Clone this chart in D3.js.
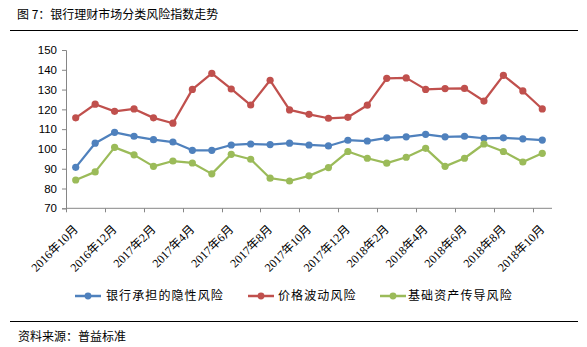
<!DOCTYPE html>
<html>
<head>
<meta charset="utf-8">
<script src="https://cdn.jsdelivr.net/npm/d3@7"></script>
<style>
  html, body { margin: 0; padding: 0; background: #fff; }
  svg { display: block; }
</style>
</head>
<body>
<svg id="chart" width="587" height="347"></svg>
<script>
const months = [
  "2016年10月","2016年11月","2016年12月","2017年1月","2017年2月","2017年3月","2017年4月",
  "2017年5月","2017年6月","2017年7月","2017年8月","2017年9月","2017年10月","2017年11月",
  "2017年12月","2018年1月","2018年2月","2018年3月","2018年4月","2018年5月","2018年6月",
  "2018年7月","2018年8月","2018年9月","2018年10月"
];
const implicitRisk = [90.7,102.9,108.4,106.4,104.7,103.5,99.3,99.3,102.0,102.5,102.2,102.9,102.0,101.5,104.4,104.0,105.6,106.1,107.4,106.1,106.4,105.4,105.6,105.1,104.5];
const priceRisk = [115.7,122.6,119.0,120.2,115.7,113.0,130.1,138.2,130.3,122.2,134.7,119.7,117.5,115.5,116.0,122.1,135.7,135.9,130.1,130.5,130.6,124.2,137.2,129.3,120.2];
const baseRisk = [84.3,88.4,100.8,97.0,91.2,93.9,92.9,87.4,97.3,94.8,85.2,83.8,86.4,90.6,98.7,95.3,92.8,95.8,100.3,91.2,95.3,102.5,98.7,93.4,97.8];
const seriesNames = ["银行承担的隐性风险","价格波动风险","基础资产传导风险"];
const seriesColors = ["#4F81BD","#C0504D","#9BBB59"];
const yTicks = [70,80,90,100,110,120,130,140,150];
const titleText = "图 7：银行理财市场分类风险指数走势";
const sourceText = "资料来源：普益标准";

const svg = d3.select("#chart");
const plotLeft = 66, plotRight = 552, plotTop = 50, plotBottom = 208.3;

const x = d3.scaleBand().domain(months).range([plotLeft, plotRight]).paddingInner(0).paddingOuter(0);
const y = d3.scaleLinear().domain([70, 150]).range([plotBottom, plotTop]);

const cjk = "'Noto Sans CJK SC', 'Noto Sans', sans-serif";

// Title
svg.append("text").attr("x", 17).attr("y", 15).attr("dy", "0.35em")
  .attr("font-family", cjk).attr("font-size", 12).attr("fill", "#000")
  .text(titleText);
svg.append("line").attr("x1", 10).attr("x2", 578).attr("y1", 30.5).attr("y2", 30.5)
  .attr("stroke", "#000").attr("stroke-width", 1.2);

// Y axis
const yAxis = d3.axisLeft(y).tickValues(yTicks).tickSize(4).tickPadding(5);
const gy = svg.append("g").attr("transform", `translate(${plotLeft},0)`).call(yAxis);
gy.select(".domain").attr("stroke", "#868686");
gy.selectAll(".tick line").attr("stroke", "#868686");
gy.selectAll(".tick text").attr("font-family", "'Liberation Sans', Arial, sans-serif")
  .attr("font-size", 11.5).attr("fill", "#000");

// X axis line
svg.append("line").attr("x1", plotLeft).attr("x2", plotRight).attr("y1", plotBottom).attr("y2", plotBottom)
  .attr("stroke", "#868686").attr("stroke-width", 1);
const labeled = months.filter((d, i) => i % 2 === 0);
svg.append("g").selectAll("line").data(labeled).join("line")
  .attr("x1", d => Math.round(x(d)) + 0.5).attr("x2", d => Math.round(x(d)) + 0.5)
  .attr("y1", plotBottom).attr("y2", plotBottom + 4)
  .attr("stroke", "#868686");
svg.append("g").selectAll("text").data(labeled).join("text")
  .attr("transform", d => `translate(${x(d) + x.bandwidth() / 2},${227}) rotate(-45)`)
  .attr("text-anchor", "end").attr("dy", "0.35em")
  .attr("font-family", "'Liberation Serif', 'Times New Roman', 'Noto Sans CJK SC', serif")
  .attr("font-size", 12).attr("fill", "#000")
  .text(d => d);

// Series
const allSeries = [implicitRisk, priceRisk, baseRisk];
const line = d3.line().x((d, i) => x(months[i]) + x.bandwidth() / 2).y(d => y(d));
allSeries.forEach((vals, k) => {
  const g = svg.append("g");
  g.append("path").datum(vals).attr("d", line).attr("fill", "none")
    .attr("stroke", seriesColors[k]).attr("stroke-width", 2.25).attr("stroke-linejoin", "round");
  g.selectAll("circle").data(vals).join("circle")
    .attr("cx", (d, i) => x(months[i]) + x.bandwidth() / 2).attr("cy", d => y(d))
    .attr("r", 3.6).attr("fill", seriesColors[k]);
});

// Legend
const legendPos = [{lx: 75, tx: 106}, {lx: 248, tx: 278}, {lx: 380, tx: 408}];
const ly = 296;
seriesNames.forEach((name, k) => {
  const p = legendPos[k];
  svg.append("line").attr("x1", p.lx).attr("x2", p.lx + 26).attr("y1", ly).attr("y2", ly)
    .attr("stroke", seriesColors[k]).attr("stroke-width", 2.5);
  svg.append("circle").attr("cx", p.lx + 13).attr("cy", ly).attr("r", 3.4).attr("fill", seriesColors[k]);
  svg.append("text").attr("x", p.tx).attr("y", ly).attr("dy", "0.35em")
    .attr("font-family", cjk).attr("font-size", 12).attr("letter-spacing", 1.1).attr("fill", "#000")
    .text(name);
});

// Bottom rule and source
svg.append("line").attr("x1", 10).attr("x2", 578).attr("y1", 321.5).attr("y2", 321.5)
  .attr("stroke", "#000").attr("stroke-width", 1.2);
svg.append("text").attr("x", 18).attr("y", 337).attr("dy", "0.35em")
  .attr("font-family", cjk).attr("font-size", 12).attr("fill", "#000")
  .text(sourceText);
</script>
</body>
</html>
